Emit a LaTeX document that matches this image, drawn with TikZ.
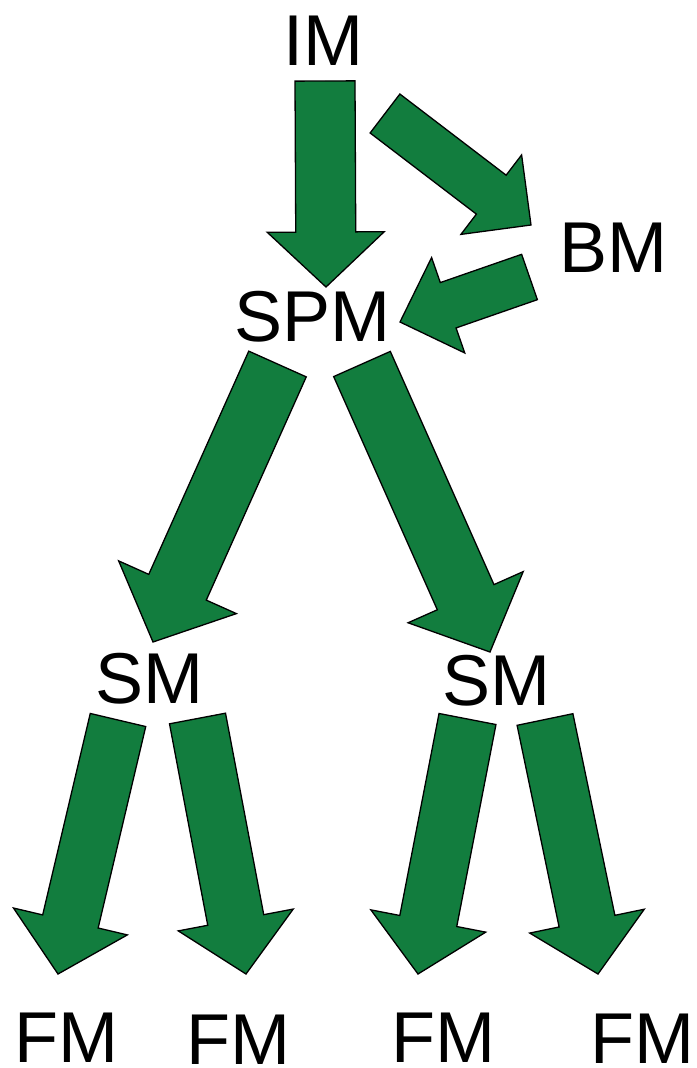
\documentclass[tikz,border=0pt]{standalone}
\usepackage{fontspec}
\setmainfont{Liberation Sans}
\usetikzlibrary{calc}
\definecolor{arrowgreen}{RGB}{18,125,62}
\tikzset{
  blockarrow/.style={fill=arrowgreen, draw=black, line width=1.3pt, line join=miter},
  txt/.style={font=\fontsize{72}{72}\selectfont, inner sep=0pt, anchor=base, text=black}
}
% #1 tail, #2 tip, #3 shaft half width, #4 head half width, #5 head length
\newcommand{\fatarrow}[5]{%
  \coordinate (hb) at ($(#2)!#5!(#1)$);
  \draw[blockarrow] ($(#1)!#3!90:(#2)$) -- ($(hb)!#3!90:(#2)$) -- ($(hb)!#4!90:(#2)$)
     -- (#2) -- ($(hb)!#4!-90:(#2)$) -- ($(hb)!#3!-90:(#2)$) -- ($(#1)!#3!-90:(#2)$) -- cycle;
}
\begin{document}
\begin{tikzpicture}[x=1pt,y=-1pt]
\useasboundingbox[fill=white] (0,0) rectangle (696,1068);
% labels
\node[txt] (IM)  at (323.5,65) {IM};
\node[txt] (BM)  at (613,272) {BM};
\node[txt] (SPM) at (312.5,341) {SPM};
\node[txt] (SML) at (149,703) {SM};
\node[txt] (SMR) at (496,705) {SM};
\node[txt] (FM1) at (66,1062) {FM};
\node[txt] (FM2) at (238.5,1064) {FM};
\node[txt] (FM3) at (443.5,1062) {FM};
\node[txt] (FM4) at (642,1063) {FM};
% arrow end points
\coordinate (a1t) at (325,81);    \coordinate (a1h) at (326,287);
\coordinate (a2t) at (385,113.5); \coordinate (a2h) at (531,225);
\coordinate (a3t) at (529.5,277); \coordinate (a3h) at (400,322);
\coordinate (a4t) at (277.5,364); \coordinate (a4h) at (153,642);
\coordinate (a5t) at (362,364);   \coordinate (a5h) at (490,652);
\coordinate (a6t) at (118,720);   \coordinate (a6h) at (58,974);
\coordinate (a7t) at (197.5,718.5); \coordinate (a7h) at (246,974);
\coordinate (a8t) at (467.5,719); \coordinate (a8h) at (418,974);
\coordinate (a9t) at (545,719.5); \coordinate (a9h) at (598,974);
% block arrows
\fatarrow{a1t}{a1h}{30pt}{58.5pt}{55pt}
\fatarrow{a2t}{a2h}{24.5pt}{50pt}{50pt}
\fatarrow{a3t}{a3h}{24pt}{50.5pt}{51pt}
\fatarrow{a4t}{a4h}{31.5pt}{64.5pt}{60pt}
\fatarrow{a5t}{a5h}{31pt}{63pt}{60pt}
\fatarrow{a6t}{a6h}{28.5pt}{58.5pt}{54pt}
\fatarrow{a7t}{a7h}{28.5pt}{58.5pt}{55pt}
\fatarrow{a8t}{a8h}{29pt}{58.5pt}{54pt}
\fatarrow{a9t}{a9h}{28.5pt}{58.5pt}{54pt}
\end{tikzpicture}
\end{document}
